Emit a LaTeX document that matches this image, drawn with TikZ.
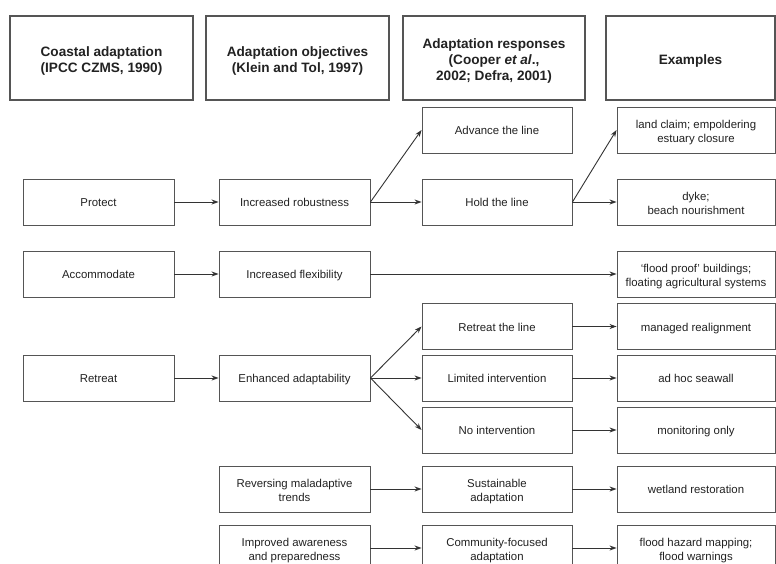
\documentclass[tikz,border=0pt]{standalone}
\usepackage{fontspec}
\setmainfont{Liberation Sans}
\usetikzlibrary{arrows.meta}
\definecolor{linec}{HTML}{333333}
\definecolor{boxc}{HTML}{555555}
\definecolor{txtc}{HTML}{222222}
\begin{document}
\begin{tikzpicture}[x=1pt,y=-1pt,
  hbase/.style={draw=boxc,line width=1.1pt,minimum height=84pt,align=center,text=txtc,font=\fontsize{13.6}{16.5}\selectfont\bfseries,inner sep=0pt,execute at end node={\rule[-3.2pt]{0pt}{3.2pt}}},
  hdr/.style={hbase,execute at begin node={\rule{0pt}{15.5pt}}},
  hdrm/.style={hbase,execute at begin node={\rule{0pt}{32.5pt}}},
  hdrt/.style={hbase,font=\fontsize{13.6}{16}\selectfont\bfseries,execute at begin node={\rule{0pt}{49pt}}},
  base/.style={draw=boxc,line width=0.9pt,minimum height=46pt,align=center,text=txtc,font=\fontsize{11.4}{13.8}\selectfont,inner sep=0pt,execute at end node={\rule[-3pt]{0pt}{3pt}}},
  bx/.style={base,execute at begin node={\rule{0pt}{12pt}}},
  bxm/.style={base,execute at begin node={\rule{0pt}{28.3pt}}},
  c1/.style={minimum width=151pt},
  c2/.style={minimum width=151pt},
  c3/.style={minimum width=150pt},
  c4/.style={minimum width=158pt},
  arr/.style={draw=linec,line width=0.9pt,-{Stealth[length=7pt,width=5pt]}}]
\useasboundingbox (0,0) rectangle (776,564);
\fill[white] (0,0) rectangle (776,564);
\clip (0,0) rectangle (776,564);
% headers
\node[hdrm,minimum width=183pt] (h1) at (101.5,58) {Coastal adaptation\\(IPCC CZMS, 1990)};
\node[hdrm,minimum width=183pt] (h2) at (297.5,58) {Adaptation objectives\\(Klein and Tol, 1997)};
\node[hdrt,minimum width=182pt] (h3) at (494,58) {Adaptation responses\\(Cooper \textit{et al}.,\\2002; Defra, 2001)};
\node[hdr,minimum width=169pt] (h4) at (690.5,58) {Examples};
% row 0
\node[bx,c3] (adv) at (497,130) {Advance the line};
\node[bxm,c4] (land) at (696,130) {land claim; empoldering\\estuary closure};
% row 1
\node[bx,c1] (prot) at (98.5,202) {Protect};
\node[bx,c2] (rob) at (294.5,202) {Increased robustness};
\node[bx,c3] (hold) at (497,202) {Hold the line};
\node[bxm,c4] (dyke) at (696,202) {dyke;\\beach nourishment};
% row 2
\node[bx,c1] (acc) at (98.5,274) {Accommodate};
\node[bx,c2] (flex) at (294.5,274) {Increased flexibility};
\node[bxm,c4] (fp) at (696,274) {`flood proof' buildings;\\floating agricultural systems};
% row 3-5
\node[bx,c3] (rtl) at (497,326.5) {Retreat the line};
\node[bx,c4] (mr) at (696,326.5) {managed realignment};
\node[bx,c1] (ret) at (98.5,378) {Retreat};
\node[bx,c2] (ena) at (294.5,378) {Enhanced adaptability};
\node[bx,c3] (lim) at (497,378) {Limited intervention};
\node[bx,c4] (adh) at (696,378) {ad hoc seawall};
\node[bx,c3] (noi) at (497,430) {No intervention};
\node[bx,c4] (mon) at (696,430) {monitoring only};
% row 6
\node[bxm,c2] (rev) at (294.5,489) {Reversing maladaptive\\trends};
\node[bxm,c3] (sus) at (497,489) {Sustainable\\adaptation};
\node[bx,c4] (wet) at (696,489) {wetland restoration};
% row 7
\node[bxm,c2] (imp) at (294.5,548) {Improved awareness\\and preparedness};
\node[bxm,c3] (com) at (497,548) {Community-focused\\adaptation};
\node[bxm,c4] (fh) at (696,548) {flood hazard mapping;\\flood warnings};
% arrows
\draw[arr] (prot.east) -- (rob.west);
\draw[arr] (rob.east) -- (adv.west);
\draw[arr] (rob.east) -- (hold.west);
\draw[arr] (hold.east) -- (land.west);
\draw[arr] (hold.east) -- (dyke.west);
\draw[arr] (acc.east) -- (flex.west);
\draw[arr] (flex.east) -- (fp.west);
\draw[arr] (ret.east) -- (ena.west);
\draw[arr] (ena.east) -- (rtl.west);
\draw[arr] (ena.east) -- (lim.west);
\draw[arr] (ena.east) -- (noi.west);
\draw[arr] (rtl.east) -- (mr.west);
\draw[arr] (lim.east) -- (adh.west);
\draw[arr] (noi.east) -- (mon.west);
\draw[arr] (rev.east) -- (sus.west);
\draw[arr] (sus.east) -- (wet.west);
\draw[arr] (imp.east) -- (com.west);
\draw[arr] (com.east) -- (fh.west);
\end{tikzpicture}
\end{document}
